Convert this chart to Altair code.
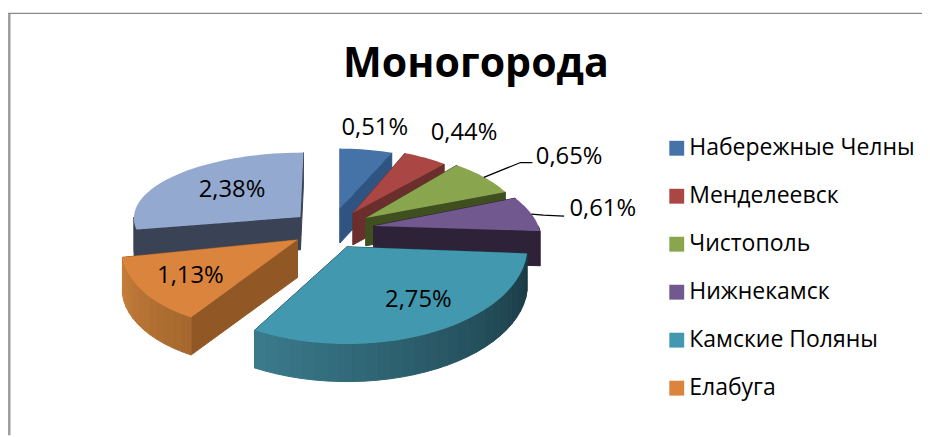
import math
import altair as alt

CITIES = ["Набережные Челны", "Менделеевск", "Чистополь", "Нижнекамск",
          "Камские Поляны", "Елабуга", "Зеленодольск"]
LEGEND_CITIES = CITIES[:6]
VALUES = [0.51, 0.44, 0.65, 0.61, 2.75, 1.13, 2.38]
COLORS = ["#4572A7", "#AA4643", "#89A54E", "#71588F", "#4198AF", "#DB843D", "#93A9CF"]
WALLS = ["#2F5482", "#6B2E2C", "#3F4F1F", "#2E2238", "#1C3F4A", "#915826", "#3A4356"]
# wall shading at the left and right of each visible rim
RIM_L = ["#2F5482", "#6B2E2C", "#3F4F1F", "#2E2238", "#3A7A8C", "#C67D3A", "#3A4356"]
RIM_R = ["#2F5482", "#6B2E2C", "#3F4F1F", "#2E2238", "#1A3A44", "#A5682E", "#3A4356"]
# exploded apex x, y, radii, perspective skew and thickness of each slice, read in page pixels
APEX_X = [343, 356, 369, 377, 350, 300, 303]
APEX_Y = [208, 213, 218, 226, 247, 240, 217]
RAD_X = [141, 142, 157, 166, 182, 176, 168]
RAD_Y = [60, 65, 70, 75, 98, 91, 65]
SKEW = [0, 0, -13, -30, 0, 20, 3]
DEPTH = [35, 32, 28, 35, 38, 38, 33]
PAINT_ORDER = [0, 1, 2, 3, 6, 5, 4]
LABEL_X = [378, 468, 574, 608, 422, 192, 234]
LABEL_Y = [127, 132, 156, 209, 301, 277, 190]
LEADERS = [[(488, 177), (525, 162), (537, 162)], [(536, 214), (548, 215), (569, 216)]]
TITLE = "Моногорода"
FONT = "Open Sans"

total = sum(VALUES)
starts, acc = [], 0.0
for v in VALUES:
    starts.append(acc / total * 360)
    acc += v


def feature(rings, **props):
    ring = [list(p) for p in rings]
    ring.append(ring[0])
    return {"type": "Feature", "properties": props,
            "geometry": {"type": "Polygon", "coordinates": [ring]}}


def line(pts, **props):
    return {"type": "Feature", "properties": props,
            "geometry": {"type": "LineString", "coordinates": [list(p) for p in pts]}}


def mix(a, b, t):
    ca = [int(a[i:i + 2], 16) for i in (1, 3, 5)]
    cb = [int(b[i:i + 2], 16) for i in (1, 3, 5)]
    return "#" + "".join(f"{round(x + (y - x) * t):02x}" for x, y in zip(ca, cb))


def rim(i, deg):
    r = math.radians(deg)
    return (APEX_X[i] + RAD_X[i] * math.sin(r) + SKEW[i] * math.cos(r),
            APEX_Y[i] - RAD_Y[i] * math.cos(r))


def project(c):
    return c.project(type="identity", scale=1, translate=[-8, -8])


def wall_layer(i):
    a0 = starts[i]
    a1 = a0 + VALUES[i] / total * 360
    d = DEPTH[i]
    apex = (APEX_X[i], APEX_Y[i])
    feats = []
    for a in (a0, a1):
        p = rim(i, a)
        feats.append(feature([apex, p, (p[0], p[1] + d), (apex[0], apex[1] + d)], fill=WALLS[i]))
    lo, hi = max(a0, 90), min(a1, 270)
    if hi > lo:
        n = max(2, int((hi - lo) / 4))
        for k in range(n):
            s = lo + (hi - lo) * k / n
            e = lo + (hi - lo) * (k + 1) / n
            ps, pe = rim(i, s), rim(i, e)
            col = mix(RIM_R[i], RIM_L[i], k / max(1, n - 1))
            feats.append(feature([ps, pe, (pe[0], pe[1] + d), (ps[0], ps[1] + d)], fill=col))
    return project(
        alt.Chart(alt.InlineData(values=feats))
        .mark_geoshape(filled=True, strokeWidth=1)
        .encode(fill=alt.Fill("properties.fill:N", scale=None, legend=None),
                stroke=alt.Stroke("properties.fill:N", scale=None, legend=None))
    )


color_scale = alt.Scale(domain=CITIES, range=COLORS)
legend = alt.Legend(
    values=LEGEND_CITIES, title=None, orient="none", legendX=663, legendY=128,
    symbolType="square", symbolSize=225, symbolStrokeWidth=0, labelFont=FONT,
    labelFontSize=23.2, labelColor="#000000", rowPadding=24.4, labelOffset=1,
    labelLimit=300,
)


def top_layer(i):
    a0 = starts[i]
    a1 = a0 + VALUES[i] / total * 360
    n = max(3, int((a1 - a0) / 2))
    pts = [(APEX_X[i], APEX_Y[i])] + [rim(i, a0 + (a1 - a0) * k / n) for k in range(n + 1)]
    return project(
        alt.Chart(alt.InlineData(values=[feature(pts, city=CITIES[i])]))
        .mark_geoshape(filled=True, strokeWidth=0)
        .encode(color=alt.Color("properties.city:N", scale=color_scale, legend=legend))
    )


frame = project(
    alt.Chart(alt.InlineData(values=[
        line([(9.3, 11.5), (9.3, 440)], c="#999999", w=2.4),
        line([(8, 11.5), (935, 11.5)], c="#8A8A8A", w=1.4),
    ])).mark_geoshape(filled=False)
    .encode(stroke=alt.Stroke("properties.c:N", scale=None, legend=None),
            strokeWidth=alt.StrokeWidth("properties.w:Q", scale=None, legend=None))
)

leaders = project(
    alt.Chart(alt.InlineData(values=[line(p) for p in LEADERS]))
    .mark_geoshape(filled=False, stroke="#000000", strokeWidth=1.3)
)

label_rows = [
    {"lon": x, "lat": y, "txt": f"{v:.2f}".replace(".", ",") + "%"}
    for x, y, v in zip(LABEL_X, LABEL_Y, VALUES)
]
labels = project(
    alt.Chart(alt.InlineData(values=label_rows))
    .mark_text(font=FONT, fontSize=24, color="#000000", align="center", baseline="middle")
    .encode(longitude="lon:Q", latitude="lat:Q", text="txt:N")
)

layers = [frame]
for i in PAINT_ORDER:
    layers += [wall_layer(i), top_layer(i)]
layers += [leaders, labels]

chart = alt.layer(*layers).properties(
    width=922, height=429, padding=0, autosize=alt.AutoSizeParams(type="none"),
    title=alt.TitleParams(TITLE, font=FONT, fontSize=41.5, fontWeight="bold", color="#000000",
                          anchor="start", frame="group", orient="top", offset=0,
                          baseline="alphabetic", dx=338, dy=109),
).configure_view(stroke=None).configure(background="white")

chart.save("out.html", embed_options={"renderer": "svg", "actions": False})
